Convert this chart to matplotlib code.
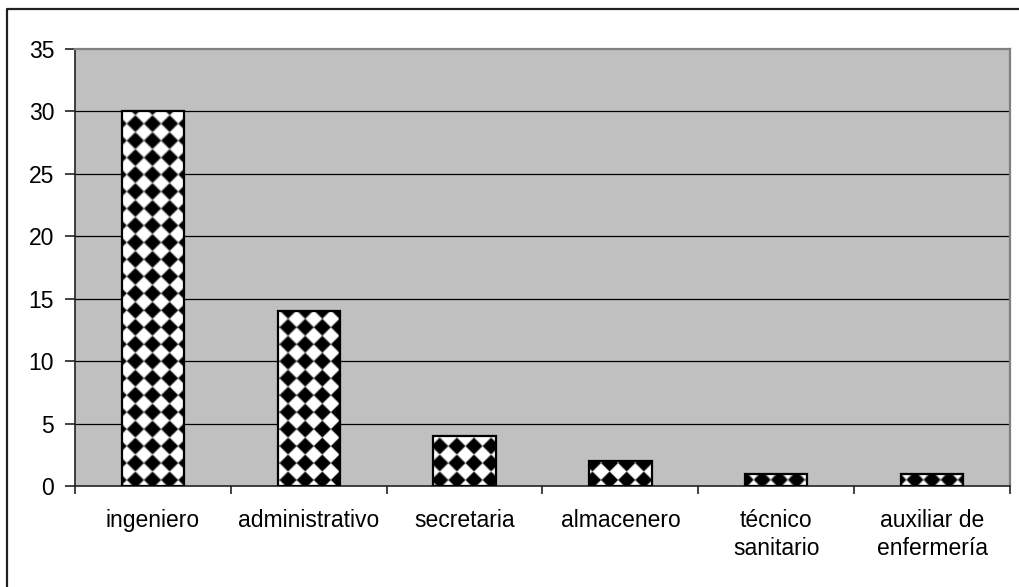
import numpy as np
import matplotlib
matplotlib.use("Agg")
import matplotlib.pyplot as plt
from matplotlib.patches import Rectangle
from matplotlib.lines import Line2D

categories = ["ingeniero", "administrativo", "secretaria", "almacenero",
              "técnico\nsanitario", "auxiliar de\nenfermería"]
values = [30, 14, 4, 2, 1, 1]
y_ticks = [0, 5, 10, 15, 20, 25, 30, 35]

W, H, DPI = 1020, 587, 100
plt.rcParams["font.family"] = ["Liberation Sans", "DejaVu Sans"]

fig = plt.figure(figsize=(W / DPI, H / DPI), dpi=DPI)
fig.patch.set_facecolor("white")

left, right, top, bottom = 75, 1010, 49, 486
ax = fig.add_axes([left / W, 1 - bottom / H, (right - left) / W, (bottom - top) / H])
ax.set_facecolor("#c0c0c0")
ax.set_xlim(-0.5, len(categories) - 0.5)
ax.set_ylim(0, 35)

# horizontal gridlines
for yv in y_ticks[1:-1]:
    ax.axhline(yv, color="black", lw=0.9, zorder=1)

for side in ("top", "right"):
    ax.spines[side].set_color("#808080")
    ax.spines[side].set_linewidth(1.6)
for side in ("left", "bottom"):
    ax.spines[side].set_color("#222222")
    ax.spines[side].set_linewidth(1.2)

label_size = 16.5
ax.set_yticks(y_ticks)
ax.set_yticklabels([str(v) for v in y_ticks], fontsize=label_size)
ax.tick_params(axis="y", direction="out", length=7, width=1.2, color="#222222", pad=8)

# category labels at centres, tick marks on boundaries
ax.set_xticks(np.arange(-0.5, len(categories), 1.0))
ax.set_xticklabels([""] * (len(categories) + 1))
ax.tick_params(axis="x", direction="out", length=6, width=1.2, color="#222222")
for i, lab in enumerate(categories):
    ax.text(i, -1.85, lab, ha="center", va="top", fontsize=label_size,
            linespacing=1.3, transform=ax.transData)

# diamond (rotated checkerboard) fill
period = 16.95
x_anchor, y_anchor = 135.0, 480.0
px = np.arange(left, right) + 0.5
py = np.arange(top, bottom) + 0.5
X, Y = np.meshgrid(px, py)
dx = (X - x_anchor + period / 2) % period - period / 2
dy = (Y - y_anchor + period / 2) % period - period / 2
d = np.abs(dx) + np.abs(dy)
shade = np.clip((d - period / 2) / 2.2 + 0.5, 0, 1)

bar_width = 0.40
for i, v in enumerate(values):
    rect = Rectangle((i - bar_width / 2, 0), bar_width, v, facecolor="none",
                     edgecolor="black", lw=1.6, zorder=4)
    ax.add_patch(rect)
    img = ax.imshow(shade, cmap="gray", vmin=0, vmax=1, extent=(-0.5, len(categories) - 0.5, 0, 35),
                    origin="upper", interpolation="bilinear", aspect="auto", zorder=3)
    img.set_clip_path(rect)

ax.set_xlim(-0.5, len(categories) - 0.5)
ax.set_ylim(0, 35)

# outer frame of the chart area
fig.add_artist(Line2D([7 / W, 7 / W, 1.0], [0.0, 1 - 9 / H, 1 - 9 / H],
                      transform=fig.transFigure, color="#202020", lw=1.6))

fig.savefig("out.png", dpi=DPI)
